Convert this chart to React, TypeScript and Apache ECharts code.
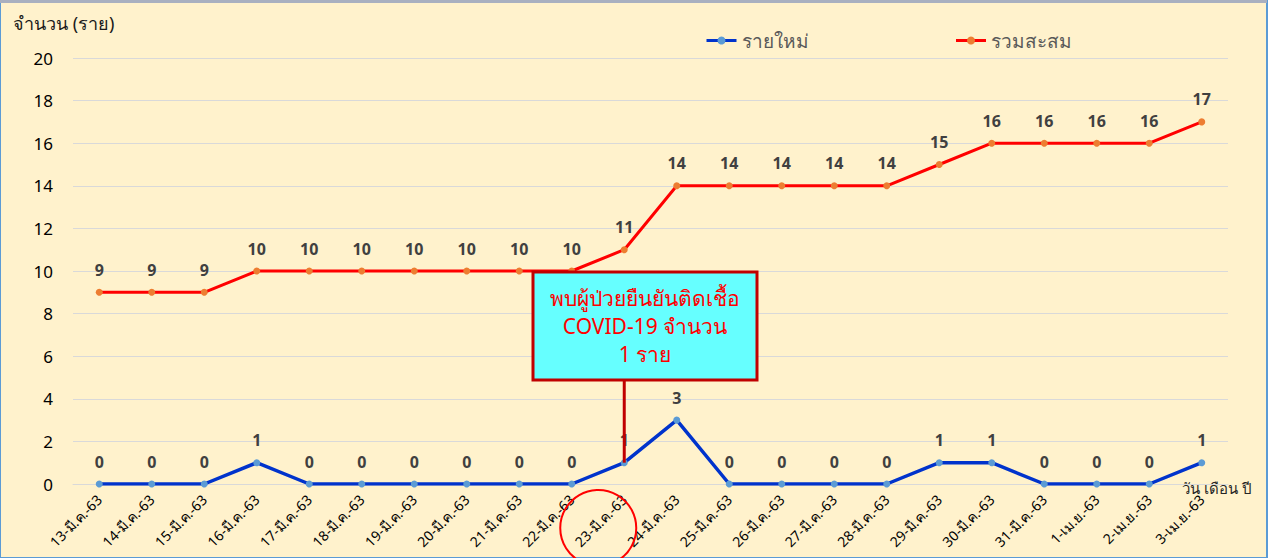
import React, { useEffect, useRef } from "react";
import * as echarts from "echarts";

const categories = [
  "13-มี.ค.-63", "14-มี.ค.-63", "15-มี.ค.-63", "16-มี.ค.-63", "17-มี.ค.-63",
  "18-มี.ค.-63", "19-มี.ค.-63", "20-มี.ค.-63", "21-มี.ค.-63", "22-มี.ค.-63",
  "23-มี.ค.-63", "24-มี.ค.-63", "25-มี.ค.-63", "26-มี.ค.-63", "27-มี.ค.-63",
  "28-มี.ค.-63", "29-มี.ค.-63", "30-มี.ค.-63", "31-มี.ค.-63", "1-เม.ย.-63",
  "2-เม.ย.-63", "3-เม.ย.-63",
];
const newCases = [0, 0, 0, 1, 0, 0, 0, 0, 0, 0, 1, 3, 0, 0, 0, 0, 1, 1, 0, 0, 0, 1];
const cumulative = [9, 9, 9, 10, 10, 10, 10, 10, 10, 10, 11, 14, 14, 14, 14, 14, 15, 16, 16, 16, 16, 17];
const seriesNames = ["รายใหม่", "รวมสะสม"];
const lineColors = ["#0033CC", "#FF0000"];
const dotColors = ["#5B9BD5", "#ED7D31"];
const yTitle = "จำนวน (ราย)";
const xTitle = "วัน เดือน ปี";
const noteLines = ["พบผู้ป่วยยืนยันติดเชื้อ", "COVID-19 จำนวน", "1 ราย"];
const noteIndex = 10;

const FONT = "'Noto Sans', 'Open Sans', sans-serif";

export default function App() {
  const ref = useRef<HTMLDivElement>(null);
  useEffect(() => {
    document.body.style.margin = "0";
    if (!ref.current) return;
    const chart = echarts.init(ref.current, null, { renderer: "svg" });
    const labelStyle = {
      show: true,
      position: "top" as const,
      distance: 11,
      fontSize: 16,
      fontWeight: "bold" as const,
      color: "#404040",
      fontFamily: FONT,
    };
    chart.setOption({
      animation: false,
      backgroundColor: "#ffffff",
      textStyle: { fontFamily: FONT },
      legend: {
        left: 700,
        top: 26,
        itemWidth: 30,
        itemHeight: 10,
        itemGap: 146,
        textStyle: { fontSize: 19, color: "#595959", fontFamily: FONT },
        data: seriesNames.map((n, i) => ({
          name: n,
          lineStyle: { color: lineColors[i], width: 3 },
          itemStyle: { color: dotColors[i] },
        })),
      },
      grid: { left: 73, right: 49, top: 58, bottom: 74, containLabel: false },
      xAxis: {
        type: "category",
        data: categories,
        boundaryGap: true,
        axisLine: { show: true, lineStyle: { color: "#D9D9D9", width: 1 } },
        axisTick: { show: false },
        axisLabel: {
          rotate: 45,
          interval: 0,
          fontSize: 14,
          color: "#000000",
          margin: 13,
          fontFamily: FONT,
        },
      },
      yAxis: {
        type: "value",
        min: 0,
        max: 20,
        interval: 2,
        axisLine: { show: false },
        axisTick: { show: false },
        splitLine: { lineStyle: { color: "#D9D9D9", width: 1 } },
        axisLabel: { fontSize: 17, color: "#000000", margin: 20, fontFamily: FONT },
      },
      series: [
        {
          name: seriesNames[0],
          type: "line",
          data: newCases,
          symbol: "circle",
          symbolSize: 7,
          lineStyle: { color: lineColors[0], width: 3.5 },
          itemStyle: { color: dotColors[0] },
          label: labelStyle,
          z: 3,
        },
        {
          name: seriesNames[1],
          type: "line",
          data: cumulative,
          symbol: "circle",
          symbolSize: 7,
          lineStyle: { color: lineColors[1], width: 3 },
          itemStyle: { color: dotColors[1] },
          label: labelStyle,
          z: 3,
        },
      ],
    });

    const pt = chart.convertToPixel({ seriesIndex: 0 }, [noteIndex, newCases[noteIndex]]) as number[];
    const px = pt[0];
    const py = pt[1];
    const boxLeft = 533, boxTop = 272, boxW = 224, boxH = 108;

    chart.setOption({
      graphic: [
        {
          type: "rect",
          z: -10,
          silent: true,
          shape: { x: 0, y: 0, width: 1267, height: 558 },
          style: { fill: "#FFF2CC", stroke: "#5B9BD5", lineWidth: 2 },
        },
        {
          type: "rect",
          z: -9,
          silent: true,
          shape: { x: 0, y: 0, width: 1267, height: 3 },
          style: { fill: "#A9B0C0" },
        },
        {
          type: "text",
          left: 13,
          top: 14,
          style: { text: yTitle, fontSize: 18, fill: "#1a1a1a", fontFamily: FONT },
        },
        {
          type: "text",
          x: 1252,
          y: 488,
          style: {
            text: xTitle,
            fontSize: 15,
            fill: "#262626",
            fontFamily: FONT,
            align: "right",
            verticalAlign: "middle",
          },
        },
        {
          type: "line",
          z: 50,
          shape: { x1: px, y1: boxTop + boxH, x2: px, y2: py },
          style: { stroke: "#C00000", lineWidth: 3 },
        },
        {
          type: "rect",
          z: 50,
          shape: { x: boxLeft, y: boxTop, width: boxW, height: boxH },
          style: { fill: "#66FFFF", stroke: "#C00000", lineWidth: 3 },
        },
        {
          type: "text",
          z: 51,
          x: boxLeft + boxW / 2,
          y: boxTop + boxH / 2,
          style: {
            text: noteLines.join("\n"),
            fontSize: 21,
            lineHeight: 28,
            fill: "#FF0000",
            fontFamily: FONT,
            align: "center",
            verticalAlign: "middle",
          },
        },
        {
          type: "circle",
          z: 50,
          shape: { cx: px - 26, cy: 528, r: 38 },
          style: { fill: "none", stroke: "#FF0000", lineWidth: 2 },
        },
      ],
    });

    return () => chart.dispose();
  }, []);
  return <div ref={ref} style={{ width: 1277, height: 558 }} />;
}
